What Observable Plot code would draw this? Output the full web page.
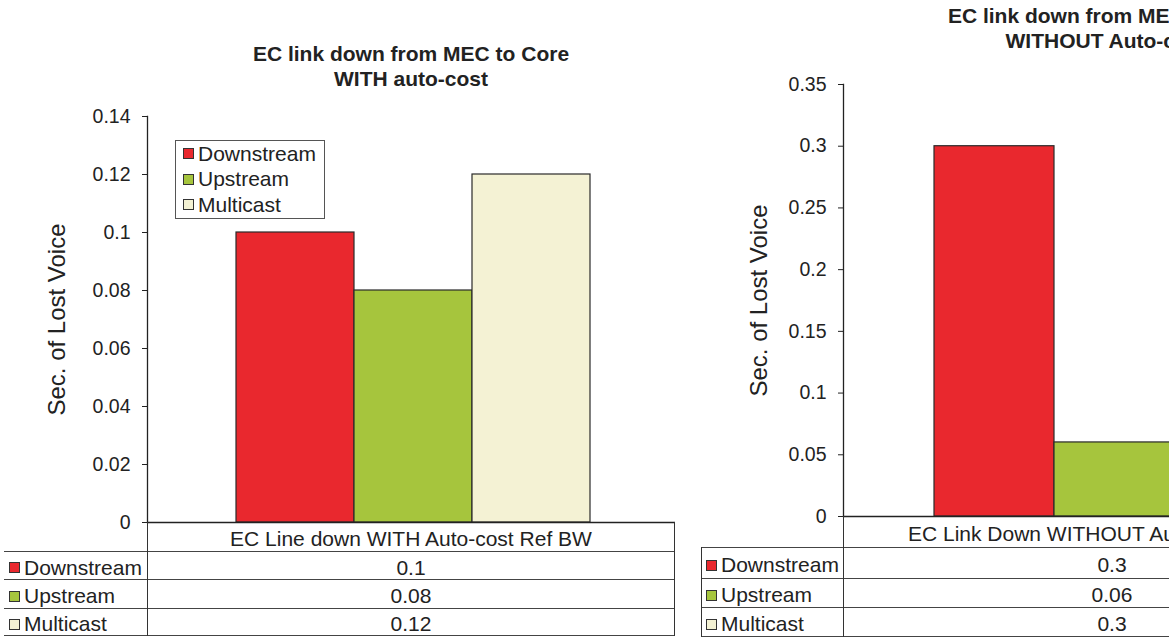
<!DOCTYPE html>
<html><head><meta charset="utf-8">
<script src="https://cdn.jsdelivr.net/npm/d3@7"></script>
<script src="https://cdn.jsdelivr.net/npm/@observablehq/plot@0.6"></script>
<style>
body{margin:0;background:#fff;font-family:"Liberation Sans",Arial,sans-serif;color:#222;}
#wrap{position:relative;width:1169px;height:638px;overflow:hidden;background:#fff;}
.title{position:absolute;font-weight:bold;font-size:21px;text-align:center;line-height:25px;white-space:nowrap;transform:translateX(-50%);}
.hl{position:absolute;height:0;border-top:1.5px solid #444;}
.vl{position:absolute;width:0;border-left:1.5px solid #333;}
.cell{position:absolute;display:flex;align-items:center;white-space:nowrap;font-size:21px;box-sizing:border-box;padding-top:3px;}
.sw{display:inline-block;width:9px;height:9px;border:1px solid #333;margin-right:4px;}
.legend{position:absolute;background:#fff;border:1px solid #555;padding:0 8px 0 7px;font-size:21px;}
.legend div{display:flex;align-items:center;height:25.5px;}
svg [aria-label="y-axis label"]{font-size:24px;}
</style></head>
<body><div id="wrap"></div>
<script>
// ---- data ----
const series = ["Downstream", "Upstream", "Multicast"];
const seriesColors = ["#E9282E", "#A6C53D", "#F4F2D4"];
const panelTitles = [["EC link down from MEC to Core", "WITH auto-cost"], ["EC link down from MEC to Core", "WITHOUT Auto-cost"]];
const categories = ["EC Line down WITH Auto-cost Ref BW", "EC Link Down WITHOUT Auto-cost Ref BW"];
const valuesWith = [0.1, 0.08, 0.12];
const valuesWithout = [0.3, 0.06, 0.3];
const tableLabelsWith = ["0.1", "0.08", "0.12"];
const tableLabelsWithout = ["0.3", "0.06", "0.3"];
const yTicksWith = [0, 0.02, 0.04, 0.06, 0.08, 0.1, 0.12, 0.14];
const yTicksWithout = [0, 0.05, 0.1, 0.15, 0.2, 0.25, 0.3, 0.35];
const yLabel = "Sec. of Lost Voice";

// ---- layout ----
const panels = [
  {left: 0, marginLeft: 147, marginTop: 116, bandW: 528, height: 523, yMax: 0.14, labelOffset: 100,
   values: valuesWith, ticks: yTicksWith, title: panelTitles[0], titleTop: 41, titleDx: 0, category: categories[0],
   labels: tableLabelsWith, tableLeft: 4, rows: [30, 28, 29, 27], leftBorder: false, legend: true},
  {left: 700, marginLeft: 143, marginTop: 84, bandW: 538, height: 517, yMax: 0.35, labelOffset: 94,
   values: valuesWithout, ticks: yTicksWithout, title: panelTitles[1], titleTop: 3, titleDx: -6, category: categories[1],
   labels: tableLabelsWithout, tableLeft: 1, rows: [32, 31, 29, 29], leftBorder: true, legend: false}
];

const wrap = document.getElementById("wrap");
function el(cls, css, html) {
  const d = document.createElement("div");
  if (cls) d.className = cls;
  Object.assign(d.style, css);
  if (html != null) d.innerHTML = html;
  wrap.appendChild(d);
  return d;
}

panels.forEach(p => {
  const data = series.map((s, i) => ({series: s, value: p.values[i]}));
  const chart = Plot.plot({
    width: p.marginLeft + p.bandW + 5,
    height: p.height,
    marginLeft: p.marginLeft, marginRight: 5, marginTop: p.marginTop, marginBottom: 1,
    style: {fontFamily: '"Liberation Sans", Arial, sans-serif', color: "#222", background: "transparent", overflow: "visible"},
    x: {type: "band", domain: series, paddingInner: 0, paddingOuter: 0.737, align: 0.51, axis: null},
    y: {domain: [0, p.yMax], axis: null},
    color: {domain: series, range: seriesColors},
    marks: [
      Plot.barY(data, {x: "series", y: "value", fill: "series", stroke: "#2a2a2a", strokeWidth: 1.2}),
      Plot.axisY({ticks: p.ticks, tickFormat: d => String(d), tickSize: 5, tickPadding: 12, fontSize: 19.5,
                  label: yLabel, labelAnchor: "center", labelArrow: "none", labelOffset: p.labelOffset, stroke: "#222"}),
      Plot.frame({anchor: "left", stroke: "#222", strokeWidth: 1.3}),
      Plot.ruleY([0], {stroke: "#222", strokeWidth: 1.3})
    ]
  });
  chart.style.position = "absolute";
  chart.style.left = p.left + "px";
  chart.style.top = "0px";
  wrap.appendChild(chart);

  // title
  const cx = p.left + p.marginLeft + p.bandW / 2 + p.titleDx;
  el("title", {left: cx + "px", top: p.titleTop + "px"}, p.title.join("<br>"));

  // table
  const axisX = p.left + p.marginLeft;
  const tl = p.left + p.tableLeft;
  const right = axisX + p.bandW;
  const top = p.height - 1;
  let y = top;
  const bounds = [y];
  p.rows.forEach(h => { y += h; bounds.push(y); });
  const bottom = bounds[bounds.length - 1];
  el("cell", {left: axisX + "px", top: top + "px", width: p.bandW + "px", height: p.rows[0] + "px", justifyContent: "center"}, p.category);
  for (let i = 1; i < bounds.length; i++) {
    el("hl", {left: tl + "px", top: (bounds[i] - 1) + "px", width: (right - tl) + "px"});
  }
  el("vl", {left: axisX - 0.5 + "px", top: top + "px", height: (bottom - top) + "px"});
  el("vl", {left: right - 1 + "px", top: top + "px", height: (bottom - top) + "px"});
  if (p.leftBorder) el("vl", {left: tl + "px", top: (bounds[1] - 1) + "px", height: (bottom - bounds[1] + 1) + "px"});
  series.forEach((s, i) => {
    const t0 = bounds[i + 1], h = p.rows[i + 1];
    el("cell", {left: (tl + 5) + "px", top: t0 + "px", height: h + "px"},
       `<span class="sw" style="background:${seriesColors[i]}"></span>${s}`);
    el("cell", {left: axisX + "px", top: t0 + "px", width: p.bandW + "px", height: h + "px", justifyContent: "center"}, p.labels[i]);
  });

  if (p.legend) {
    const lg = el("legend", {left: "175px", top: "140px"});
    series.forEach((s, i) => {
      const r = document.createElement("div");
      r.innerHTML = `<span class="sw" style="background:${seriesColors[i]}"></span>${s}`;
      lg.appendChild(r);
    });
  }
});
</script>
</body></html>
